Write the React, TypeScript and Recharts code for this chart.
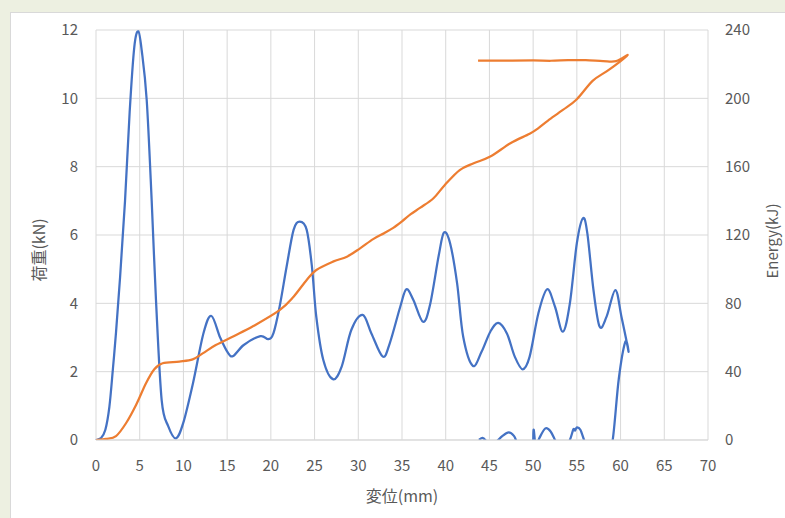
import React from 'react';
import { LineChart, Line, XAxis, YAxis, CartesianGrid } from 'recharts';

// Load (kN) vs displacement (mm), in recorded order (includes return path)
const loadX = [0, 0.57, 1.07, 1.53, 1.94, 2.29, 2.75, 3.32, 3.85, 4.38, 4.84, 5.23, 5.8, 6.37, 6.86, 7.51, 8.27, 9.15, 9.98, 11.1, 12.3, 13.2, 14.2, 15.1, 15.7, 16.9, 18.8, 19.7, 20.3, 21.0, 21.8, 22.6, 23.3, 24.1, 24.7, 25.2, 26.0, 27.1, 28.1, 29.2, 30.5, 31.5, 32.8, 33.6, 34.8, 35.5, 36.3, 37.4, 38.2, 39.2, 39.8, 40.5, 41.3, 42.0, 43.1, 44.1, 45.1, 46.0, 47.0, 47.9, 48.8, 49.6, 50.6, 51.6, 52.5, 53.4, 54.2, 55.0, 55.7, 56.2, 56.9, 57.6, 58.4, 59.4, 60.1, 60.9,
  60.55, 59.8, 59.1, 58.4, 57.5, 56.5, 55.9, 55.4, 55.0, 54.8, 54.6, 54.2, 53.4, 52.6, 52.0, 51.4, 50.7, 50.3, 50.05, 49.9, 49.0, 48.2, 47.8, 47.2, 46.5, 45.8, 45.1, 44.6, 44.2, 43.8];
const loadY = [0, 0.06, 0.3, 0.97, 2.1, 3.15, 4.75, 7.0, 9.6, 11.5, 11.96, 11.4, 9.95, 7.0, 4.1, 1.17, 0.4, 0.05, 0.5, 1.67, 3.13, 3.63, 3.0, 2.55, 2.46, 2.78, 3.04, 2.95, 3.13, 3.9, 5.07, 6.15, 6.39, 6.15, 5.07, 3.6, 2.34, 1.78, 2.15, 3.22, 3.66, 3.12, 2.44, 2.83, 3.9, 4.41, 4.1, 3.46, 3.95, 5.4, 6.07, 5.76, 4.59, 3.02, 2.17, 2.58, 3.17, 3.43, 3.12, 2.44, 2.07, 2.44, 3.71, 4.41, 3.9, 3.17, 4.0, 5.76, 6.49, 6.05, 4.39, 3.32, 3.61, 4.39, 3.61, 2.6,
  2.88, 1.8, 0, -0.6, -0.7, -0.4, -0.05, 0.3, 0.37, 0.28, 0.31, 0.0, -0.4, -0.05, 0.25, 0.34, 0.05, -0.2, 0.3, -0.4, -0.5, -0.1, 0.12, 0.22, 0.12, -0.05, -0.2, -0.02, 0.06, 0.0];

// Energy (kJ) vs displacement (mm)
const energyX = [0, 1.14, 2.29, 3.43, 4.58, 5.72, 6.67, 7.62, 9.53, 11.06, 12.2, 13.7, 15.8, 18.0, 21.0, 22.6, 24.1, 25.2, 27.1, 28.7, 30.2, 31.7, 33.0, 34.0, 35.0, 36.0, 37.1, 38.6, 39.9, 41.6, 43.2, 45.1, 47.4, 49.6, 50.6, 51.7, 53.4, 55.0, 56.8, 58.4, 59.9, 60.8,
  59.5, 58.0, 56.0, 54.0, 52.0, 50.0, 47.0, 43.7];
const energyY = [0, 0.6, 2.3, 9.8, 20.5, 33.2, 41.4, 44.9, 45.9, 47.2, 50.7, 55.6, 60.9, 66.7, 76, 83.9, 93.7, 99.5, 104.4, 107.3, 112.2, 117.6, 121.2, 124.2, 128.0, 132.2, 136.0, 141.5, 149.3, 158, 162, 165.9, 173.7, 179.3, 182.6, 187.0, 193.2, 199.5, 210.2, 215.8, 221.4, 225.4,
  221.8, 221.8, 222.4, 222.3, 222.0, 222.2, 222.1, 222.1];

const xTicks = [0, 5, 10, 15, 20, 25, 30, 35, 40, 45, 50, 55, 60, 65, 70];
const loadTicks = [0, 2, 4, 6, 8, 10, 12];
const energyTicks = [0, 40, 80, 120, 160, 200, 240];

const loadData = loadX.map((x, i) => ({ x, y: loadY[i] }));
const energyData = energyX.map((x, i) => ({ x, y: energyY[i] }));

// Catmull-Rom style smoothing (like spreadsheet smoothed lines), works with non-monotonic x
function smoothCurve(context: any) {
  let pts: number[][] = [];
  return {
    areaStart() {},
    areaEnd() {},
    lineStart() { pts = []; },
    point(x: number, y: number) { pts.push([+x, +y]); },
    lineEnd() {
      const n = pts.length;
      if (!n) return;
      context.moveTo(pts[0][0], pts[0][1]);
      for (let i = 0; i < n - 1; i++) {
        const p0 = pts[i - 1] || pts[i];
        const p1 = pts[i];
        const p2 = pts[i + 1];
        const p3 = pts[i + 2] || p2;
        const c1x = p1[0] + (p2[0] - p0[0]) / 6;
        const c1y = p1[1] + (p2[1] - p0[1]) / 6;
        const c2x = p2[0] - (p3[0] - p1[0]) / 6;
        const c2y = p2[1] - (p3[1] - p1[1]) / 6;
        context.bezierCurveTo(c1x, c1y, c2x, c2y, p2[0], p2[1]);
      }
    },
  };
}

const FONT = '"Noto Sans CJK JP", "Noto Sans", sans-serif';
const tickStyle = { fill: '#595959', fontSize: 15, fontFamily: FONT };

export default function App() {
  return (
    <div style={{ position: 'fixed', left: 0, top: 0, width: 785, height: 518, background: '#edf0e1', overflow: 'hidden' }}>
      <div style={{ position: 'absolute', left: 10, top: 12, width: 800, height: 530, background: '#ffffff', border: '1px solid #d9d9d9', boxSizing: 'border-box' }} />
      <div style={{ position: 'absolute', left: 0, top: 0 }}>
        <LineChart width={785} height={518} margin={{ top: 30, right: 0, bottom: 0, left: 0 }}>
          <CartesianGrid stroke="#d9d9d9" strokeWidth={1} yAxisId="left" />
          <XAxis
            dataKey="x"
            type="number"
            domain={[0, 70]}
            ticks={xTicks}
            interval={0}
            height={78}
            tickLine={false}
            axisLine={{ stroke: '#d9d9d9' }}
            tickMargin={14}
            tick={tickStyle}
            allowDuplicatedCategory={false}
            label={() => (
              <text x={402} y={495} textAnchor="middle" dominantBaseline="central" fill="#595959" fontSize={16} fontFamily={FONT}>変位(mm)</text>
            )}
          />
          <YAxis
            yAxisId="left"
            type="number"
            domain={[0, 12]}
            ticks={loadTicks}
            interval={0}
            width={96}
            allowDataOverflow
            tickLine={false}
            axisLine={false}
            tickMargin={12}
            tick={tickStyle}
            label={() => (
              <text x={38} y={250} transform="rotate(-90 38 250)" textAnchor="middle" dominantBaseline="central" fill="#595959" fontSize={16} fontFamily={FONT}>荷重(kN)</text>
            )}
          />
          <YAxis
            yAxisId="right"
            orientation="right"
            type="number"
            domain={[0, 240]}
            ticks={energyTicks}
            interval={0}
            width={77}
            allowDataOverflow
            tickLine={false}
            axisLine={false}
            tickMargin={11}
            tick={tickStyle}
            label={() => (
              <text x={771} y={241} transform="rotate(-90 771 241)" textAnchor="middle" dominantBaseline="central" fill="#595959" fontSize={15} fontFamily={FONT}>Energy(kJ)</text>
            )}
          />
          <Line
            yAxisId="left"
            data={loadData}
            dataKey="y"
            type={smoothCurve as any}
            stroke="#4472c4"
            strokeWidth={2.25}
            dot={false}
            activeDot={false}
            isAnimationActive={false}
          />
          <Line
            yAxisId="right"
            data={energyData}
            dataKey="y"
            type={smoothCurve as any}
            stroke="#ed7d31"
            strokeWidth={2.25}
            dot={false}
            activeDot={false}
            isAnimationActive={false}
          />
        </LineChart>
      </div>
    </div>
  );
}
